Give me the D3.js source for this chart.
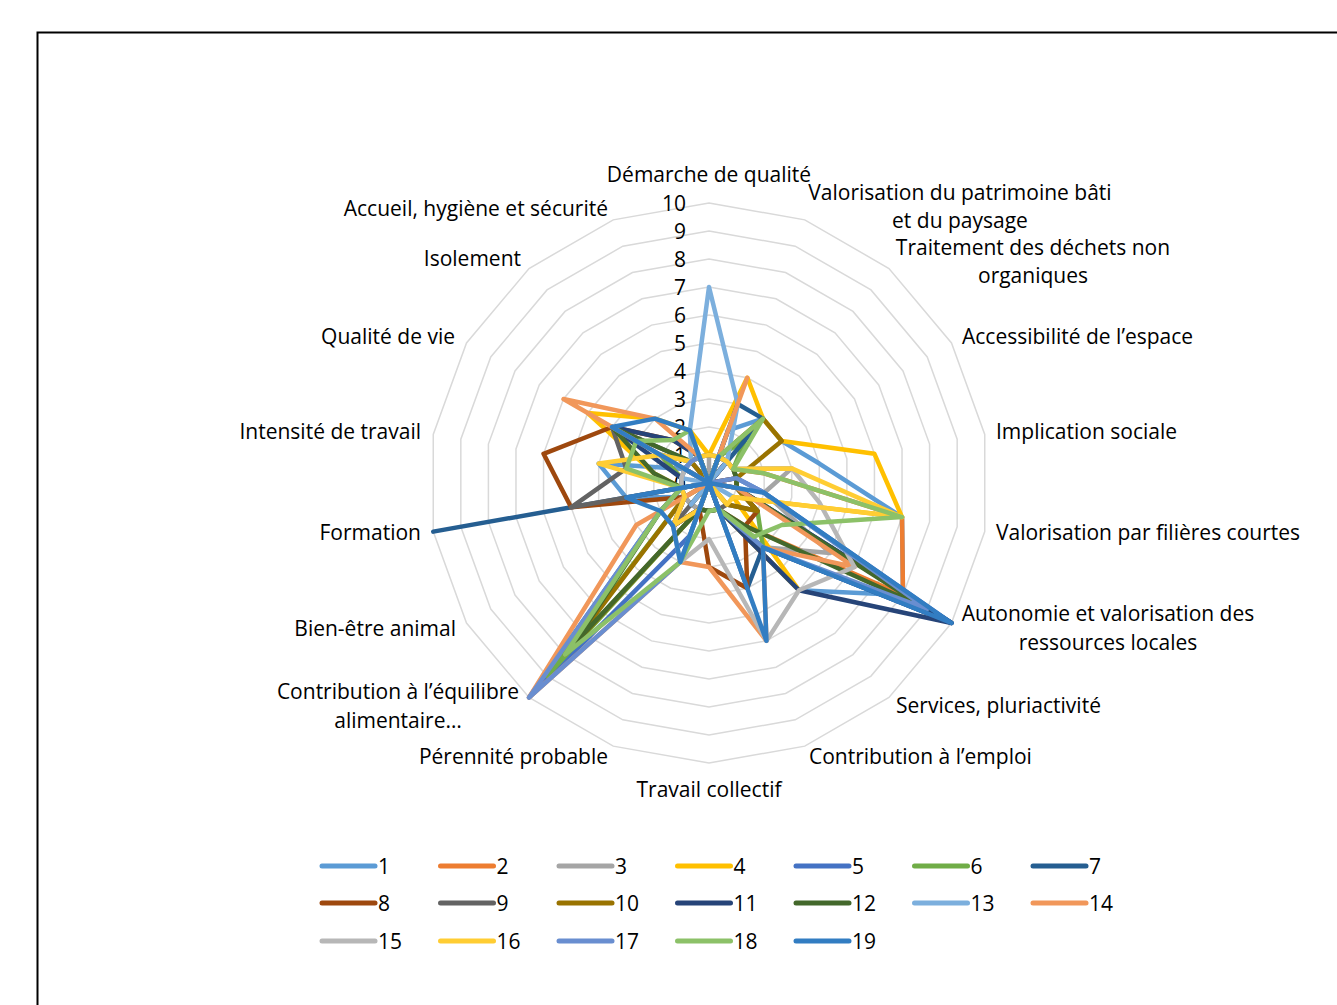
<!DOCTYPE html>
<html lang="fr">
<head>
<meta charset="utf-8">
<script src="https://cdn.jsdelivr.net/npm/d3@7"></script>
<style>
  html, body { margin: 0; padding: 0; background: #fff; }
  svg { display: block; }
  text { font-family: "Open Sans", "Noto Sans", sans-serif; fill: #000; }
</style>
</head>
<body>
<svg id="chart" width="1337" height="1005"></svg>
<script>
// Axes of the radar, clockwise from the top
const axes = [
  ["Démarche de qualité"],
  ["Valorisation du patrimoine bâti", "et du paysage"],
  ["Traitement des déchets non", "organiques"],
  ["Accessibilité de l’espace"],
  ["Implication sociale"],
  ["Valorisation par filières courtes"],
  ["Autonomie et valorisation des", "ressources locales"],
  ["Services, pluriactivité"],
  ["Contribution à l’emploi"],
  ["Travail collectif"],
  ["Pérennité probable"],
  ["Contribution à l’équilibre", "alimentaire…"],
  ["Bien-être animal"],
  ["Formation"],
  ["Intensité de travail"],
  ["Qualité de vie"],
  ["Isolement"],
  ["Accueil, hygiène et sécurité"]
];

const ticks = [0, 1, 2, 3, 4, 5, 6, 7, 8, 9, 10];

const seriesNames = ["1","2","3","4","5","6","7","8","9","10","11","12","13","14","15","16","17","18","19"];

const seriesColors = ["#5B9BD5","#ED7D31","#A5A5A5","#FFC000","#4472C4","#70AD47","#255E91",
  "#9E480E","#636363","#997300","#264478","#43682B","#7CAFDD","#F1975A",
  "#B7B7B7","#FFCD33","#698ED0","#8CC168","#327DC2"];

// Scores per series, one value per axis (same order as `axes`)
const s1  = [0, 2, 3, 3, 4, 7, 8, 5, 1, 0, 1, 1, 1, 3, 4, 1, 1, 1];
const s2  = [0, 1, 1, 1, 2, 7, 8, 2, 1, 1, 1, 2, 1, 1, 1, 2, 1, 1];
const s3  = [1, 0, 1, 1, 3, 2, 5, 3, 1, 1, 1, 1, 1, 1, 1, 1, 1, 1];
const s4  = [1, 4, 3, 3, 6, 7, 1, 5, 1, 0, 0, 1, 0, 1, 2, 5, 3, 2];
const s5  = [0, 1, 1, 0, 1, 2, 10, 3, 1, 0, 2, 10, 2, 1, 1, 1, 1, 1];
const s6  = [0, 1, 2, 1, 1, 1, 2, 3, 1, 1, 1, 9, 1, 1, 1, 2, 1, 1];
const s7  = [0, 3, 3, 0, 0, 1, 10, 3, 4, 0, 0, 1, 0, 10, 0, 1, 1, 0];
const s8  = [0, 1, 1, 0, 1, 1, 2, 2, 4, 3, 1, 2, 1, 5, 6, 4, 2, 1];
const s9  = [1, 1, 1, 1, 1, 1, 2, 1, 1, 1, 1, 2, 0, 5, 3, 4, 1, 1];
const s10 = [0, 1, 3, 3, 1, 1, 2, 1, 0, 0, 1, 8, 1, 0, 0, 1, 1, 0];
const s11 = [0, 1, 1, 0, 0, 1, 10, 5, 1, 0, 1, 2, 1, 1, 1, 4, 2, 1];
const s12 = [0, 1, 1, 1, 1, 1, 9, 2, 1, 1, 1, 7.5, 2, 1, 2, 4, 1, 1];
const s13 = [7, 3, 1, 0, 0, 0, 1, 0, 0, 0, 0, 1, 0, 0, 1, 1, 1, 2];
const s14 = [0, 4, 0, 0, 0, 1, 6, 3, 6, 3, 3, 10, 3, 0, 0, 6, 3, 1];
const s15 = [0, 1, 1, 1, 3, 4, 6, 5, 6, 2, 3, 2, 1, 1, 1, 1, 1, 1];
const s16 = [1, 1, 1, 1, 3, 7, 1, 1, 0, 0, 1, 2, 1, 1, 4, 2, 1, 1];
const s17 = [0, 1, 0, 0, 1, 2, 9, 3, 1, 0, 3, 10, 2, 1, 0, 1, 1, 1];
const s18 = [0, 1, 3, 1, 2, 7, 3, 2.5, 1, 1, 3, 8, 2, 1, 3, 3, 2, 2];
const s19 = [0, 1, 0, 0, 0, 2, 10, 3, 6, 0, 3, 2, 2, 3, 0, 4, 3, 2];

const seriesValues = [s1, s2, s3, s4, s5, s6, s7, s8, s9, s10, s11, s12, s13, s14, s15, s16, s17, s18, s19];

const svg = d3.select("#chart");
const W = 1337, H = 1005;
const FONT = 21;

svg.append("rect").attr("width", W).attr("height", H).attr("fill", "#fff");
// chart frame (runs off the right and bottom edges)
svg.append("rect")
  .attr("x", 37.5).attr("y", 32.5)
  .attr("width", 1400).attr("height", 1100)
  .attr("fill", "none").attr("stroke", "#000").attr("stroke-width", 2);

const cx = 709, cy = 483;
const r = d3.scaleLinear().domain([0, 10]).range([0, 280]);
const angle = d3.scalePoint().domain(d3.range(axes.length + 1)).range([0, 2 * Math.PI]);

const point = (i, v) => {
  const a = angle(i);
  return [cx + r(v) * Math.sin(a), cy - r(v) * Math.cos(a)];
};

const g = svg.append("g");

// concentric grid rings
const ringLine = d3.line().curve(d3.curveLinearClosed);
g.selectAll("path.ring")
  .data(ticks.filter(t => t > 0))
  .join("path")
  .attr("class", "ring")
  .attr("d", t => ringLine(axes.map((_, i) => point(i, t))))
  .attr("fill", "none")
  .attr("stroke", "#D9D9D9")
  .attr("stroke-width", 1.5);

// value labels along the vertical axis
g.selectAll("text.tick")
  .data(ticks)
  .join("text")
  .attr("class", "tick")
  .attr("x", cx - 23)
  .attr("y", t => cy - r(t))
  .attr("dy", "0.38em")
  .attr("text-anchor", "end")
  .attr("font-size", FONT)
  .text(t => t);

// series polygons
const seriesLine = d3.line().curve(d3.curveLinearClosed);
g.selectAll("path.series")
  .data(seriesValues)
  .join("path")
  .attr("class", "series")
  .attr("d", vals => seriesLine(vals.map((v, i) => point(i, v))))
  .attr("fill", "none")
  .attr("stroke", (d, i) => seriesColors[i])
  .attr("stroke-width", 4.5)
  .attr("stroke-linejoin", "round");

// category labels: [anchor, x, y of first line, line gap]
const labelPos = [
  ["middle", 709, 174, 29],
  ["middle", 960, 192, 28],
  ["middle", 1033, 247, 28],
  ["start", 962, 336, 29],
  ["start", 996, 431, 29],
  ["start", 996, 532, 29],
  ["middle", 1108, 613, 29],
  ["start", 896, 705, 29],
  ["start", 809, 756, 29],
  ["middle", 709, 789, 29],
  ["end", 608, 756, 29],
  ["middle", 398, 691, 29],
  ["end", 456, 628, 29],
  ["end", 421, 532, 29],
  ["end", 421, 431, 29],
  ["end", 455, 336, 29],
  ["end", 521, 258, 29],
  ["end", 608, 208, 29]
];

const cat = svg.append("g").selectAll("text.cat")
  .data(axes)
  .join("text")
  .attr("class", "cat")
  .attr("font-size", FONT)
  .attr("text-anchor", (d, i) => labelPos[i][0])
  .attr("x", (d, i) => labelPos[i][1])
  .attr("y", (d, i) => labelPos[i][2]);
cat.selectAll("tspan")
  .data((d, i) => d.map(line => ({ line, x: labelPos[i][1], gap: labelPos[i][3] })))
  .join("tspan")
  .attr("x", d => d.x)
  .attr("dy", (d, j) => j === 0 ? "0.38em" : d.gap + "px")
  .text(d => d.line);

// legend: 7 entries per row
const legend = svg.append("g").selectAll("g.item")
  .data(seriesNames)
  .join("g")
  .attr("class", "item")
  .attr("transform", (d, i) => `translate(${320 + (i % 7) * 118.5},${[866, 903, 941][Math.floor(i / 7)]})`);
legend.append("line")
  .attr("x1", 2).attr("x2", 55)
  .attr("stroke", (d, i) => seriesColors[i])
  .attr("stroke-width", 5)
  .attr("stroke-linecap", "round");
legend.append("text")
  .attr("x", 58)
  .attr("dy", "0.38em")
  .attr("font-size", FONT)
  .text(d => d);
</script>
</body>
</html>
